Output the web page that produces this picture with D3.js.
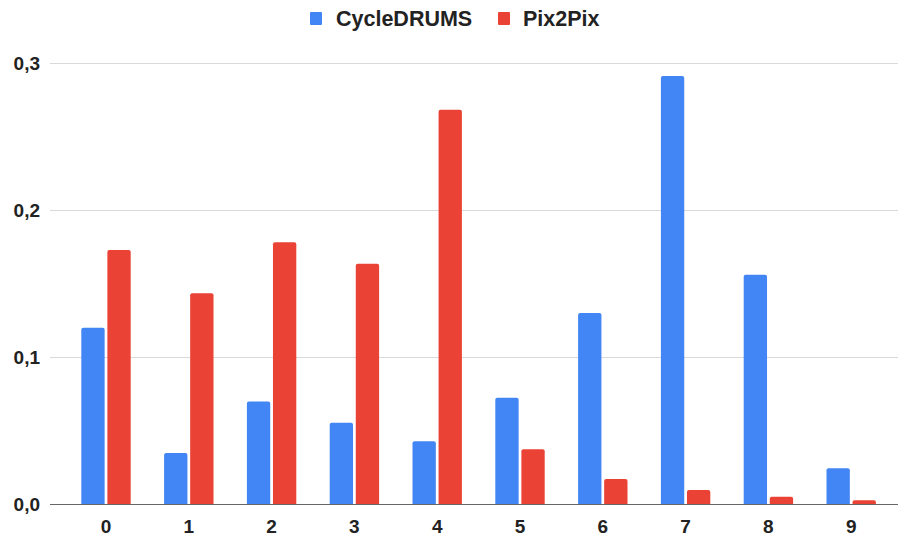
<!DOCTYPE html>
<html>
<head>
<meta charset="utf-8">
<script src="https://cdn.jsdelivr.net/npm/d3@7"></script>
<style>
  html, body { margin: 0; padding: 0; background: #fff; }
  svg { display: block; font-family: "Liberation Sans", Arial, sans-serif; }
</style>
</head>
<body>
<svg id="chart" width="898" height="536"></svg>
<script>
const categories = ["0", "1", "2", "3", "4", "5", "6", "7", "8", "9"];
const seriesNames = ["CycleDRUMS", "Pix2Pix"];
const cycleDrums = [0.120, 0.035, 0.070, 0.0555, 0.043, 0.0725, 0.130, 0.291, 0.156, 0.0246];
const pix2pix = [0.1728, 0.1434, 0.178, 0.1635, 0.268, 0.0375, 0.0173, 0.0098, 0.0053, 0.0029];
const yTicks = [0, 0.1, 0.2, 0.3];
const colors = ["#4285F4", "#EA4335"];

const svg = d3.select("#chart");
const plotLeft = 50, plotRight = 898;
const y = d3.scaleLinear().domain([0, 0.3]).range([504.5, 62.7]);
const x = d3.scaleBand().domain(categories).range([64.6, 892.6]).padding(0);
const groupW = 49.4;
const xs = d3.scaleBand().domain(seriesNames).range([0, groupW]).paddingInner(0.105);

// gridlines
svg.append("g").selectAll("line").data(yTicks.filter(d => d > 0)).join("line")
  .attr("x1", plotLeft).attr("x2", plotRight)
  .attr("y1", d => Math.round(y(d)) + 0.5).attr("y2", d => Math.round(y(d)) + 0.5)
  .attr("stroke", "#d9d9d9").attr("stroke-width", 1);

// y labels
const fmt = d => d3.format(".1f")(d).replace(".", ",");
svg.append("g").selectAll("text").data(yTicks).join("text")
  .attr("x", 40).attr("y", d => y(d) + 6.8)
  .attr("text-anchor", "end").attr("font-size", 19).attr("font-weight", "bold")
  .attr("fill", "#222").text(fmt);

// bars
const data = categories.map((c, i) => ({ cat: c, vals: [cycleDrums[i], pix2pix[i]] }));
function roundedTop(x0, y0, w, h, r) {
  r = Math.min(r, h, w / 2);
  return `M${x0},${y0 + h}V${y0 + r}Q${x0},${y0} ${x0 + r},${y0}H${x0 + w - r}Q${x0 + w},${y0} ${x0 + w},${y0 + r}V${y0 + h}Z`;
}
const groups = svg.append("g").selectAll("g").data(data).join("g")
  .attr("transform", d => `translate(${x(d.cat) + x.bandwidth() / 2 - groupW / 2},0)`);
groups.selectAll("path").data(d => d.vals.map((v, j) => ({ v, s: seriesNames[j], j }))).join("path")
  .attr("d", d => roundedTop(xs(d.s), y(d.v), xs.bandwidth(), y(0) - y(d.v), 2))
  .attr("fill", d => colors[d.j]);

// axis baseline
svg.append("line").attr("x1", plotLeft).attr("x2", plotRight)
  .attr("y1", 504.5).attr("y2", 504.5).attr("stroke", "#666").attr("stroke-width", 1.2);

// x labels
svg.append("g").selectAll("text").data(categories).join("text")
  .attr("x", d => x(d) + x.bandwidth() / 2).attr("y", 533)
  .attr("text-anchor", "middle").attr("font-size", 19).attr("font-weight", "bold")
  .attr("fill", "#222").text(d => d);

// legend
const legend = svg.append("g");
const legendItems = [{ name: seriesNames[0], x: 310, tx: 336 }, { name: seriesNames[1], x: 498, tx: 523 }];
legend.selectAll("rect").data(legendItems).join("rect")
  .attr("x", d => d.x).attr("y", 12).attr("width", 12).attr("height", 13).attr("rx", 1)
  .attr("fill", (d, i) => colors[i]);
legend.selectAll("text").data(legendItems).join("text")
  .attr("x", d => d.tx).attr("y", 26)
  .attr("font-size", 21.5).attr("font-weight", "bold").attr("fill", "#222")
  .text(d => d.name);
</script>
</body>
</html>
